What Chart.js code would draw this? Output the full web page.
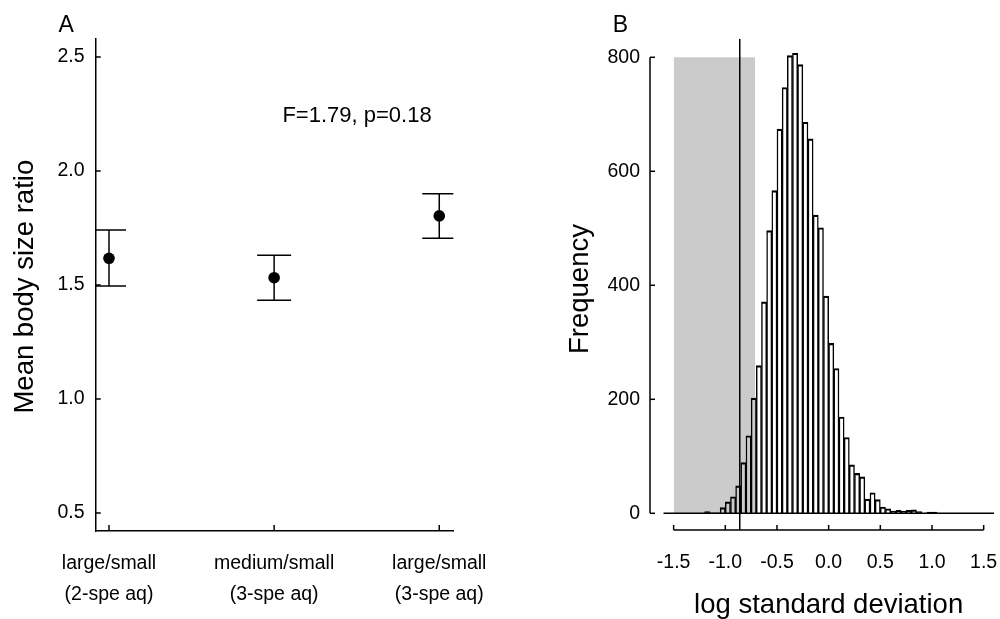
<!DOCTYPE html>
<html><head><meta charset="utf-8">
<script src="https://cdn.jsdelivr.net/npm/chart.js@4.4.0/dist/chart.umd.min.js"></script>
<style>
html,body{margin:0;padding:0;background:#fff;}
#wrap{position:relative;width:1000px;height:619px;overflow:hidden;}
canvas{position:absolute;top:0;}
#ca{left:0;} #cb{left:500px;}
</style></head><body>
<div id="wrap"><canvas id="ca" width="500" height="619"></canvas><canvas id="cb" width="500" height="619"></canvas></div>
<script>
// ---------- Panel A data ----------
const groupLabelsA = [["large/small","(2-spe aq)"],["medium/small","(3-spe aq)"],["large/small","(3-spe aq)"]];
const groupPosA = [0, 1, 2];
const meanA  = [1.617, 1.532, 1.803];
const upperA = [1.741, 1.630, 1.900];
const lowerA = [1.496, 1.433, 1.705];
const yTicksA = [0.5, 1.0, 1.5, 2.0, 2.5];
const statTextA = "F=1.79, p=0.18";
const yTitleA = "Mean body size ratio";

// ---------- Panel B data ----------
const binStartB = [-1.20,-1.15,-1.10,-1.05,-1.00,-0.95,-0.90,-0.85,-0.80,-0.75,-0.70,-0.65,-0.60,-0.55,-0.50,-0.45,-0.40,-0.35,-0.30,-0.25,-0.20,-0.15,-0.10,-0.05,0.00,0.05,0.10,0.15,0.20,0.25,0.30,0.35,0.40,0.45,0.50,0.55,0.60,0.65,0.70,0.75,0.80,0.85,0.90,0.95,1.00];
const countsB   = [3,1,1,10,20,29,48,89,136,202,259,371,496,566,674,747,803,807,787,686,657,523,501,381,298,254,169,133,85,70,64,25,36,24,11,8,4,5,4,5,6,3,0,2,2];
const binWidthB = 0.05;
const xTicksB = [-1.5,-1.0,-0.5,0.0,0.5,1.0,1.5];
const xTickLabelsB = ["-1.5","-1.0","-0.5","0.0","0.5","1.0","1.5"];
const yTicksB = [0,200,400,600,800];
const shadeXB = [-1.5, -0.71];
const shadeTopB = 800;
const observedB = -0.86;
const baselineXB = [-1.6, 1.6];
const yTitleB = "Frequency";
const xTitleB = "log standard deviation";

// ---------- common ----------
const FONT = "'Liberation Sans', Arial, Helvetica, sans-serif";
Chart.defaults.font.family = FONT;
Chart.defaults.color = '#000';

function seg(ctx, x1, y1, x2, y2) { ctx.beginPath(); ctx.moveTo(x1, y1); ctx.lineTo(x2, y2); ctx.stroke(); }

// ---------- Chart A ----------
const capHalfA = 0.103;
const errDatasets = [];
groupPosA.forEach((p, i) => {
  const st = {type:'scatter', showLine:true, pointRadius:0, borderColor:'#000', borderWidth:1.5, fill:false, order:1};
  errDatasets.push(Object.assign({data:[{x:p,y:lowerA[i]},{x:p,y:upperA[i]}]}, st));
  errDatasets.push(Object.assign({data:[{x:p-capHalfA,y:upperA[i]},{x:p+capHalfA,y:upperA[i]}]}, st));
  errDatasets.push(Object.assign({data:[{x:p-capHalfA,y:lowerA[i]},{x:p+capHalfA,y:lowerA[i]}]}, st));
});

const pluginA = {
  id: 'panelA',
  afterDraw(chart) {
    const {ctx, scales:{x, y}, chartArea:ca} = chart;
    ctx.save();
    ctx.strokeStyle = '#000'; ctx.lineWidth = 1.5;
    yTicksA.forEach(v => { const py = y.getPixelForValue(v); seg(ctx, ca.left, py, ca.left + 5, py); });
    groupPosA.forEach(v => { const px = x.getPixelForValue(v); seg(ctx, px, ca.bottom, px, ca.bottom - 6); });
    ctx.fillStyle = '#000';
    ctx.font = '23px ' + FONT; ctx.textAlign = 'left'; ctx.textBaseline = 'alphabetic';
    ctx.fillText('A', 58.5, 31.7);
    ctx.font = '22px ' + FONT; ctx.textAlign = 'center';
    ctx.fillText(statTextA, 357, 121.7);
    ctx.save();
    ctx.translate(33.3, 286.7); ctx.rotate(-Math.PI / 2);
    ctx.font = '27.5px ' + FONT; ctx.textAlign = 'center';
    ctx.fillText(yTitleA, 0, 0);
    ctx.restore();
    ctx.restore();
  }
};

new Chart(document.getElementById('ca'), {
  type: 'scatter',
  data: { datasets: errDatasets.concat([{
    data: groupPosA.map((p, i) => ({x:p, y:meanA[i]})),
    pointRadius: 5.8, pointBackgroundColor:'#000', pointBorderWidth:0, backgroundColor:'#000', borderColor:'#000', order:0
  }]) },
  options: {
    responsive:false, animation:false, events:[],
    layout:{padding:{top:38.3, right:46.7, bottom:0, left:0}},
    plugins:{legend:{display:false}, tooltip:{enabled:false}},
    scales:{
      x:{type:'linear', min:-0.0805, max:2.085,
        grid:{display:false, drawTicks:false}, border:{display:true, color:'#000', width:1.5},
        afterBuildTicks: s => { s.ticks = groupPosA.map(v => ({value:v})); },
        afterFit: s => { s.height = 88; s.paddingLeft = 0; s.paddingRight = 0; },
        ticks:{autoSkip:false, maxRotation:0, minRotation:0, padding:17, color:'#000',
          font:{size:19.5, lineHeight:1.59}, callback: v => groupLabelsA[groupPosA.indexOf(v)]}},
      y:{type:'linear', min:0.421, max:2.582,
        grid:{display:false, drawTicks:false}, border:{display:true, color:'#000', width:1.5},
        afterBuildTicks: s => { s.ticks = yTicksA.map(v => ({value:v})); },
        afterFit: s => { s.width = 95.7; s.paddingTop = 0; s.paddingBottom = 0; },
        ticks:{autoSkip:false, padding:11.2, color:'#000', font:{size:19.5}, callback: v => v.toFixed(1)}}
    }
  },
  plugins:[pluginA]
});

// ---------- Chart B ----------
const yMinB = -29.3, yMaxB = 832.6;
const yAxisOffsetB = 13.3;

const pluginB = {
  id: 'panelB',
  afterDraw(chart) {
    const {ctx, scales:{x, y}, chartArea:ca} = chart;
    ctx.save();
    ctx.strokeStyle = '#000'; ctx.lineWidth = 1.5;
    const ax = ca.left - yAxisOffsetB;
    seg(ctx, ax, y.getPixelForValue(yTicksB[0]), ax, y.getPixelForValue(yTicksB[yTicksB.length - 1]));
    yTicksB.forEach(v => { const py = y.getPixelForValue(v); seg(ctx, ax, py, ax + 5, py); });
    const ay = ca.bottom;
    seg(ctx, x.getPixelForValue(xTicksB[0]), ay, x.getPixelForValue(xTicksB[xTicksB.length - 1]), ay);
    xTicksB.forEach(v => { const px = x.getPixelForValue(v); seg(ctx, px, ay, px, ay - 5); });
    ctx.fillStyle = '#000';
    ctx.font = '23px ' + FONT; ctx.textAlign = 'left'; ctx.textBaseline = 'alphabetic';
    ctx.fillText('B', 112.8, 32);
    ctx.font = '27.5px ' + FONT; ctx.textAlign = 'center';
    ctx.fillText(xTitleB, (ca.left + ca.right) / 2, 613);
    ctx.save();
    ctx.translate(88.3, 289); ctx.rotate(-Math.PI / 2);
    ctx.fillText(yTitleB, 0, 0);
    ctx.restore();
    ctx.restore();
  }
};

new Chart(document.getElementById('cb'), {
  type: 'bar',
  data: { datasets: [
    { type:'line', data: shadeXB.map(v => ({x:v, y:shadeTopB})), fill:'origin',
      backgroundColor:'#cbcbcb', borderColor:'rgba(0,0,0,0)', borderWidth:0, pointRadius:0, order:10 },
    { type:'bar', data: binStartB.map((b, i) => ({x:b + binWidthB / 2, y:countsB[i]})),
      backgroundColor:'rgba(0,0,0,0)', borderColor:'#000',
      borderWidth:{top:1.5, left:0.8, right:0.8, bottom:0}, borderSkipped:'start',
      barPercentage:1, categoryPercentage:1, order:5 },
    { type:'line', data: baselineXB.map(v => ({x:v, y:0})), borderColor:'#000', borderWidth:1.5, pointRadius:0, fill:false, order:2 },
    { type:'line', data: [{x:observedB, y:yMinB}, {x:observedB, y:yMaxB}], borderColor:'#000', borderWidth:1.5, pointRadius:0, fill:false, order:1 }
  ] },
  options: {
    responsive:false, animation:false, events:[],
    layout:{padding:{top:38.7, right:6, bottom:0, left:0}},
    plugins:{legend:{display:false}, tooltip:{enabled:false}},
    scales:{
      x:{type:'linear', min:-1.6, max:1.6, offset:false,
        grid:{display:false, drawTicks:false}, border:{display:false},
        afterBuildTicks: s => { s.ticks = xTicksB.map(v => ({value:v})); },
        afterFit: s => { s.height = 89; s.paddingLeft = 0; s.paddingRight = 0; },
        ticks:{autoSkip:false, maxRotation:0, minRotation:0, padding:21, color:'#000',
          font:{size:19.5}, callback: v => xTickLabelsB[xTicksB.indexOf(v)]}},
      y:{type:'linear', min:yMinB, max:yMaxB,
        grid:{display:false, drawTicks:false}, border:{display:false},
        afterBuildTicks: s => { s.ticks = yTicksB.map(v => ({value:v})); },
        afterFit: s => { s.width = 163.3; s.paddingTop = 0; s.paddingBottom = 0; },
        ticks:{autoSkip:false, padding:23.3, color:'#000', font:{size:19.5}, callback: v => String(v)}}
    }
  },
  plugins:[pluginB]
});
</script>
</body></html>
